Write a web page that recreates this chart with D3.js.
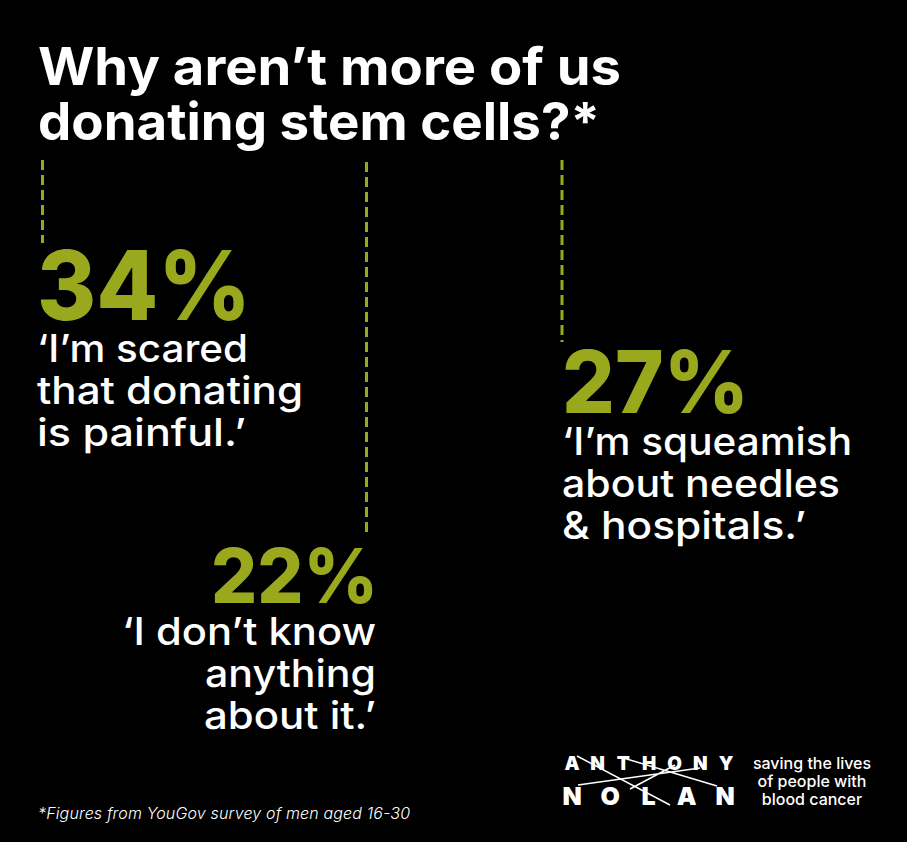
<!DOCTYPE html>
<html>
<head>
<meta charset="utf-8">
<script src="https://cdn.jsdelivr.net/npm/d3@7"></script>
<style>
html, body { margin: 0; padding: 0; background: #000; }
svg { display: block; }
text { font-family: Inter, "Noto Sans", sans-serif; }
</style>
</head>
<body>
<svg id="chart" width="907" height="842"></svg>
<script>
const titleLines = ['Why aren’t more of us', 'donating stem cells?*'];
const percents = [34, 22, 27];
const quotes = [
    ['‘I’m scared', 'that donating', 'is painful.’'],
    ['‘I don’t know', 'anything', 'about it.’'],
    ['‘I’m squeamish', 'about needles', '& hospitals.’']
];
const footnote = '*Figures from YouGov survey of men aged 16-30';
const logoTop = ['A', 'N', 'T', 'H', 'O', 'N', 'Y'];
const logoBottom = ['N', 'O', 'L', 'A', 'N'];
const tagline = ['saving the lives', 'of people with', 'blood cancer'];

const green = '#9aa81e';
const svg = d3.select('#chart');

svg.append('rect').attr('width', 907).attr('height', 842).attr('fill', '#000');

// Title
const titleWidths = [583, 562];
svg.append('g').selectAll('text')
    .data(titleLines)
    .enter()
    .append('text')
    .attr('x', 38)
    .attr('y', (d, i) => 85 + i * 55)
    .attr('fill', '#fff')
    .attr('font-size', 52)
    .attr('font-weight', 700)
    .attr('textLength', (d, i) => titleWidths[i])
    .attr('lengthAdjust', 'spacingAndGlyphs')
    .text(d => d);

// placement of each callout, same order as percents
const callouts = [
    {lineX: 42.5, lineTop: 160, lineBottom: 243, x: 37, quoteX: 37, pctY: 320, pctSize: 96, pctW: 214, quoteY: 362, quoteW: [211, 266, 209], anchor: 'start'},
    {lineX: 366.5, lineTop: 162, lineBottom: 536, x: 378, quoteX: 376, pctY: 603, pctSize: 76, pctW: 167, quoteY: 645, quoteW: [254, 171, 172], anchor: 'end'},
    {lineX: 562, lineTop: 160, lineBottom: 342, x: 562, quoteX: 562, pctY: 413, pctSize: 86, pctW: 187, quoteY: 455, quoteW: [290, 278, 244], anchor: 'start'}
];

const groups = svg.append('g').selectAll('g')
    .data(percents)
    .enter()
    .append('g');

groups.append('line')
    .attr('x1', (d, i) => callouts[i].lineX)
    .attr('x2', (d, i) => callouts[i].lineX)
    .attr('y1', (d, i) => callouts[i].lineTop)
    .attr('y2', (d, i) => callouts[i].lineBottom)
    .attr('stroke', green)
    .attr('stroke-width', 3)
    .attr('stroke-dasharray', '10 5');

groups.append('text')
    .attr('x', (d, i) => callouts[i].x)
    .attr('y', (d, i) => callouts[i].pctY)
    .attr('text-anchor', (d, i) => callouts[i].anchor)
    .attr('fill', green)
    .attr('font-size', (d, i) => callouts[i].pctSize)
    .attr('font-weight', 800)
    .attr('textLength', (d, i) => callouts[i].pctW)
    .attr('lengthAdjust', 'spacingAndGlyphs')
    .text(d => d + '%');

groups.each(function(d, i) {
    d3.select(this).selectAll('text.quote')
        .data(quotes[i])
        .enter()
        .append('text')
        .attr('class', 'quote')
        .attr('x', callouts[i].quoteX)
        .attr('y', (q, j) => callouts[i].quoteY + j * 42.2)
        .attr('text-anchor', callouts[i].anchor)
        .attr('fill', '#fff')
        .attr('font-size', 38)
        .attr('font-weight', 500)
        .attr('textLength', (q, j) => callouts[i].quoteW[j])
        .attr('lengthAdjust', 'spacingAndGlyphs')
        .text(q => q);
});

// Footnote
svg.append('text')
    .attr('x', 38)
    .attr('y', 819)
    .attr('fill', '#fff')
    .attr('font-size', 16)
    .attr('font-style', 'italic')
    .attr('font-weight', 300)
    .attr('textLength', 372)
    .text(footnote);

// Logo
const logo = svg.append('g');
const topX = d3.scalePoint().domain(d3.range(logoTop.length)).range([572, 726]);
const bottomX = d3.scalePoint().domain(d3.range(logoBottom.length)).range([572, 725]);

logo.selectAll('text.top')
    .data(logoTop)
    .enter()
    .append('text')
    .attr('class', 'top')
    .attr('x', (d, i) => topX(i))
    .attr('y', 770)
    .attr('text-anchor', 'middle')
    .attr('fill', '#fff')
    .attr('font-size', 19)
    .attr('font-weight', 900)
    .text(d => d);

logo.selectAll('text.bottom')
    .data(logoBottom)
    .enter()
    .append('text')
    .attr('class', 'bottom')
    .attr('x', (d, i) => bottomX(i))
    .attr('y', 805)
    .attr('text-anchor', 'middle')
    .attr('fill', '#fff')
    .attr('font-size', 25)
    .attr('font-weight', 900)
    .text(d => d);

logo.append('path')
    .attr('d', 'M577 756 L670 805 M630 789 L675 765 M578 785 L700 768 M620 757 L717 786')
    .attr('fill', 'none')
    .attr('stroke', '#fff')
    .attr('stroke-width', 1.5);

logo.selectAll('text.tag')
    .data(tagline)
    .enter()
    .append('text')
    .attr('class', 'tag')
    .attr('x', 812)
    .attr('y', (d, i) => 769 + i * 18)
    .attr('text-anchor', 'middle')
    .attr('fill', '#fff')
    .attr('font-size', 16)
    .attr('font-weight', 500)
    .text(d => d);
</script>
</body>
</html>
